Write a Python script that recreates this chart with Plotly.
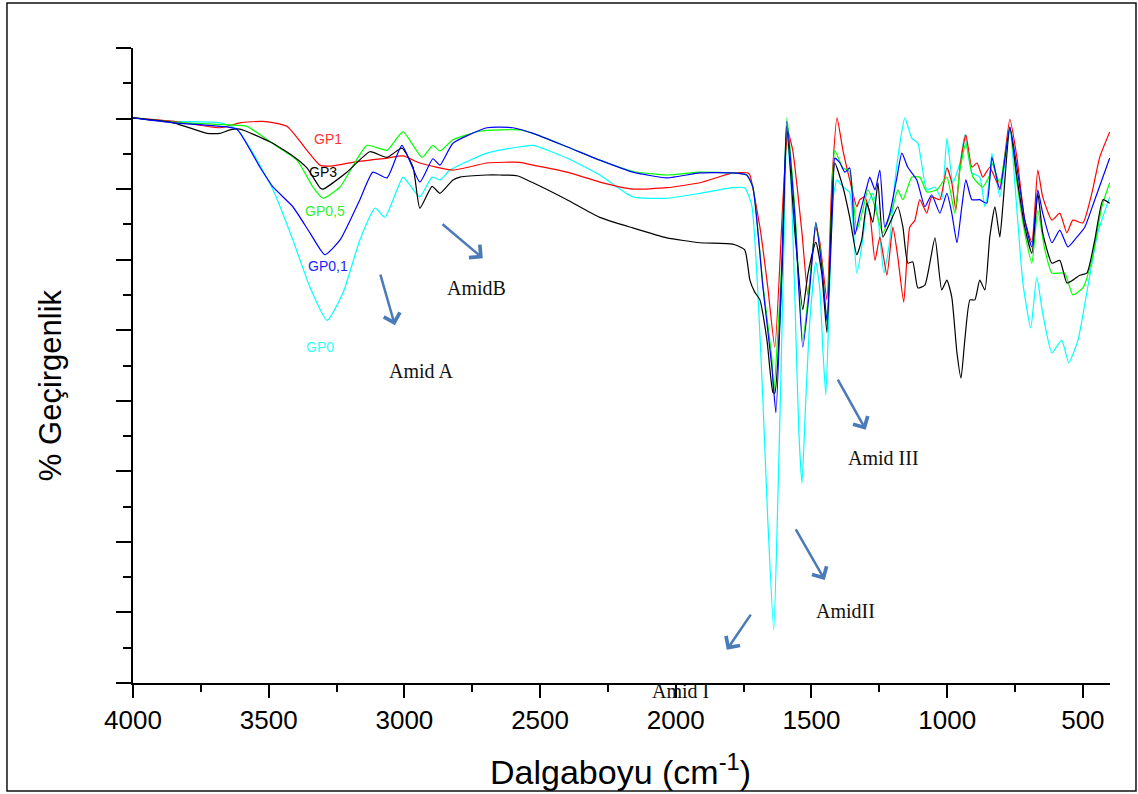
import plotly.graph_objects as go

# ---------------- data ----------------
wn_gp1 = [4000, 3850, 3679, 3606, 3521, 3433, 3359, 3311, 3263, 3190, 3064, 3005, 2943, 2821, 2696,
          2574, 2526, 2401, 2280, 2158, 2033, 1911, 1790, 1735, 1727, 1690, 1661, 1635, 1605, 1587,
          1569, 1535, 1513, 1484, 1469, 1443, 1425, 1406, 1384, 1359, 1333, 1322, 1304, 1285, 1266,
          1248, 1222, 1200, 1182, 1160, 1138, 1119, 1101, 1075, 1057, 1027, 1001, 983, 968, 953, 931,
          909, 890, 869, 843, 832, 806, 769, 743, 714, 688, 666, 648, 614, 585, 559, 537, 500, 467,
          438, 401]
t_gp1 = [80.1, 79.6, 78.7, 79.4, 79.6, 78.9, 75.5, 73.4, 73.3, 73.8, 74.4, 74.7, 73.7, 72.7, 73.7,
         73.8, 73.4, 72.4, 71.0, 70.0, 70.2, 70.9, 72.3, 72.3, 72.0, 64.6, 56.1, 47.6, 68.5, 78.1,
         75.5, 63.8, 55.0, 64.6, 62.4, 54.3, 70.9, 80.1, 75.5, 71.3, 67.5, 68.5, 68.9, 66.6, 59.9,
         63.2, 57.8, 64.6, 60.4, 54.0, 64.6, 65.6, 68.5, 66.6, 68.9, 68.5, 73.0, 70.9, 67.0, 73.1, 77.7,
         73.1, 73.7, 71.7, 73.1, 72.3, 70.2, 79.9, 74.5, 65.6, 62.5, 72.7, 68.9, 65.6, 66.6, 63.8, 65.6,
         65.2, 69.4, 74.5, 78.1]

wn_gp01 = [4000, 3850, 3679, 3617, 3532, 3484, 3411, 3348, 3293, 3237, 3164, 3116, 3064, 3009, 2943,
           2895, 2869, 2821, 2696, 2600, 2526, 2401, 2280, 2158, 2033, 1911, 1790, 1739, 1716, 1679,
           1646, 1631, 1609, 1591, 1561, 1532, 1506, 1484, 1462, 1443, 1421, 1414, 1395, 1377, 1359,
           1340, 1322, 1296, 1285, 1266, 1248, 1230, 1211, 1185, 1167, 1145, 1112, 1082, 1057, 1027,
           1001, 983, 964, 946, 931, 909, 880, 854, 835, 806, 769, 743, 714, 688, 666, 648, 614, 585,
           555, 522, 493, 456, 401]
t_gp01 = [80.1, 79.4, 78.9, 78.5, 73.1, 70.3, 67.5, 63.8, 60.7, 62.8, 68.5, 72.4, 71.6, 76.2, 71.0,
          74.3, 73.4, 76.5, 78.7, 78.7, 77.9, 76.0, 74.1, 72.4, 71.6, 72.3, 72.3, 72.0, 70.3, 56.1,
          44.8, 38.3, 59.0, 79.6, 66.0, 47.6, 56.1, 65.3, 59.0, 51.4, 68.5, 74.4, 73.7, 72.4, 73.0,
          63.5, 66.5, 70.3, 71.7, 69.9, 72.7, 64.6, 66.6, 71.7, 75.1, 73.1, 71.3, 67.5, 69.2, 66.6,
          69.4, 66.6, 62.4, 67.5, 71.3, 68.5, 68.5, 68.0, 74.5, 69.9, 78.8, 73.1, 65.6, 61.8, 69.9,
          66.6, 62.4, 64.2, 61.8, 63.2, 64.6, 68.5, 74.4]

wn_gp05 = [4000, 3850, 3643, 3580, 3495, 3396, 3337, 3300, 3237, 3138, 3064, 3005, 2935, 2895, 2869,
           2821, 2722, 2574, 2526, 2401, 2280, 2158, 2033, 1911, 1790, 1739, 1716, 1679, 1646, 1639,
           1609, 1591, 1561, 1532, 1506, 1484, 1462, 1443, 1425, 1414, 1384, 1359, 1333, 1311, 1292,
           1274, 1237, 1200, 1182, 1163, 1130, 1101, 1075, 1038, 1001, 972, 953, 931, 905, 869, 843,
           835, 806, 769, 743, 714, 688, 666, 640, 614, 567, 537, 500, 467, 430, 401]
t_gp05 = [80.1, 79.5, 79.1, 78.9, 76.7, 74.1, 70.3, 68.7, 70.3, 76.2, 75.5, 78.1, 74.5, 76.2, 75.4,
          77.0, 78.2, 78.4, 77.9, 76.0, 74.1, 72.5, 72.0, 72.4, 72.3, 72.0, 70.3, 56.5, 46.0, 41.1,
          60.0, 80.1, 67.0, 48.6, 57.0, 65.2, 59.5, 51.2, 68.5, 75.5, 73.0, 72.5, 64.2, 67.0, 69.9,
          68.5, 63.8, 67.5, 69.9, 68.5, 71.7, 71.7, 69.6, 69.9, 71.7, 66.6, 72.7, 76.5, 71.7, 70.3, 72.0,
          73.7, 70.9, 78.7, 70.9, 63.8, 59.5, 67.0, 61.4, 58.1, 58.1, 55.0, 56.0, 59.9, 67.5, 70.9]

wn_gp3 = [4000, 3850, 3727, 3679, 3643, 3606, 3495, 3411, 3359, 3311, 3300, 3212, 3127, 3064, 3009,
          2968, 2943, 2898, 2869, 2821, 2795, 2696, 2648, 2585, 2526, 2401, 2280, 2158, 2033, 1911,
          1790, 1746, 1727, 1709, 1690, 1664, 1642, 1635, 1609, 1591, 1561, 1532, 1513, 1484, 1462,
          1443, 1425, 1414, 1384, 1359, 1333, 1315, 1296, 1274, 1255, 1237, 1211, 1182, 1163, 1145,
          1127, 1108, 1082, 1045, 1020, 1001, 983, 964, 949, 935, 916, 898, 880, 861, 843, 824, 806,
          795, 769, 743, 714, 688, 666, 648, 614, 585, 559, 537, 511, 485, 456, 426, 401]
t_gp3 = [80.1, 79.4, 77.9, 77.9, 78.4, 78.5, 76.7, 74.7, 73.0, 70.2, 70.0, 72.4, 75.3, 74.5, 75.8,
         73.1, 67.3, 70.4, 69.4, 71.3, 71.7, 72.0, 72.0, 71.9, 70.9, 68.5, 66.0, 64.5, 63.1, 62.4,
         62.2, 61.4, 57.1, 55.4, 54.3, 48.6, 41.2, 41.1, 58.0, 78.8, 63.8, 52.9, 58.0, 62.5, 58.0,
         49.7, 68.0, 73.7, 70.3, 66.0, 60.7, 62.8, 68.0, 65.3, 70.9, 63.2, 65.2, 67.5, 64.6, 59.5,
         59.7, 56.0, 56.4, 63.1, 55.7, 57.1, 54.7, 46.8, 43.2, 48.6, 54.3, 54.3, 57.1, 55.7, 63.2, 67.5,
         63.2, 67.5, 78.8, 71.7, 64.6, 60.9, 69.4, 63.8, 59.5, 59.9, 56.7, 57.1, 57.8, 58.1, 62.8, 68.5,
         68.0]

wn_gp0 = [4000, 3850, 3679, 3617, 3558, 3484, 3411, 3348, 3285, 3226, 3164, 3108, 3072, 3005, 2980,
          2943, 2898, 2869, 2832, 2696, 2574, 2526, 2401, 2280, 2158, 2033, 1911, 1790, 1746, 1720,
          1698, 1679, 1661, 1639, 1624, 1613, 1602, 1591, 1576, 1561, 1547, 1535, 1521, 1506, 1484,
          1469, 1458, 1447, 1432, 1421, 1406, 1384, 1359, 1333, 1311, 1296, 1274, 1255, 1233, 1211,
          1193, 1174, 1156, 1130, 1108, 1075, 1045, 1020, 1001, 979, 953, 935, 909, 880, 861, 843,
          835, 806, 769, 743, 721, 692, 670, 648, 614, 578, 552, 518, 482, 445, 401]
t_gp0 = [80.1, 79.6, 79.4, 78.5, 75.1, 69.9, 62.8, 56.1, 51.4, 55.3, 62.8, 67.3, 66.0, 71.7, 70.6,
         68.9, 71.7, 71.3, 72.7, 75.1, 76.0, 76.2, 74.4, 72.0, 68.9, 68.7, 69.4, 70.2, 70.2, 67.7,
         55.7, 40.1, 23.1, 7.5, 25.9, 42.9, 61.4, 77.9, 71.3, 54.3, 36.0, 28.3, 40.1, 51.4, 59.7,
         55.7, 47.2, 40.8, 57.1, 68.5, 71.3, 70.3, 69.5, 58.1, 62.8, 67.5, 69.4, 66.0, 58.1, 62.8,
         70.9, 76.5, 80.1, 77.2, 76.5, 69.9, 70.3, 68.5, 77.2, 70.9, 73.7, 77.7, 72.3, 71.7, 67.5, 71.7,
         75.1, 68.9, 78.4, 67.0, 56.7, 50.3, 57.5, 52.4, 46.8, 48.6, 45.4, 48.6, 56.1, 63.8, 68.9]

series = [
    ("GP0", wn_gp0, t_gp0, "#00ffff"),
    ("GP1", wn_gp1, t_gp1, "#ff0000"),
    ("GP0,5", wn_gp05, t_gp05, "#00ff00"),
    ("GP3", wn_gp3, t_gp3, "#000000"),
    ("GP0,1", wn_gp01, t_gp01, "#0000ff"),
]

# curve labels: (text, wavenumber, value, colour)
curve_labels = [
    ("GP1", 3282, 77.1, "#ff3333"),
    ("GP3", 3300, 72.4, "#000000"),
    ("GP0,5", 3293, 66.9, "#33ee33"),
    ("GP0,1", 3282, 59.1, "#2222ff"),
    ("GP0", 3311, 47.6, "#33ffff"),
]

# band annotations: (text, text_wn, text_val, arrow tail wn, tail val, head wn, head val)
bands = [
    ("Amid A", 2939, 44.2, 3090, 58.1, 3035, 50.7),
    ("AmidB", 2733, 56.0, 2865, 65.2, 2711, 60.2),
    ("Amid III", 1233, 31.9, 1406, 43.2, 1300, 35.9),
    ("AmidII", 1373, 10.2, 1561, 22.0, 1451, 14.6),
    ("Amid I", 1981, -1.1, 1720, 9.9, 1812, 4.7),
]

x_ticks = [4000, 3500, 3000, 2500, 2000, 1500, 1000, 500]
X_MIN, X_MAX = 400, 4000
Y_MIN, Y_MAX = 0, 90

# ---------------- figure ----------------
fig = go.Figure()
for name, wn, t, col in series:
    fig.add_trace(go.Scatter(x=wn, y=t, mode="lines", name=name,
                             line=dict(color=col, width=1.2, shape="spline", smoothing=0.5)))

annotations = []
for txt, wn, v, col in curve_labels:
    annotations.append(dict(x=wn, y=v, xref="x", yref="y", text=txt, showarrow=False,
                            font=dict(family="Liberation Sans, Arial", size=14, color=col)))
for txt, tx, ty, ax0, ay0, hx, hy in bands:
    # text placed in paper coordinates so that labels just below the axis still show
    px = (X_MAX - tx) / (X_MAX - X_MIN)
    py = (ty - Y_MIN) / (Y_MAX - Y_MIN)
    annotations.append(dict(x=px, y=py, xref="paper", yref="paper", text=txt, showarrow=False,
                            xanchor="center", yanchor="middle",
                            font=dict(family="Liberation Serif, Times New Roman", size=20,
                                      color="#111111")))
    annotations.append(dict(x=hx, y=hy, ax=ax0, ay=ay0, xref="x", yref="y", axref="x", ayref="y",
                            text="", showarrow=True, arrowhead=4, arrowsize=1.3,
                            arrowwidth=2.5, arrowcolor="#4a7ab8"))

annotations.append(dict(x=0.4985, y=-0.137, xref="paper", yref="paper",
                        xanchor="center", yanchor="middle",
                        text="Dalgaboyu (cm<sup>-1</sup>)", showarrow=False,
                        font=dict(family="Liberation Sans, Arial", size=34, color="#000000")))
annotations.append(dict(x=-0.085, y=0.469, xref="paper", yref="paper", textangle=-90,
                        xanchor="center", yanchor="middle",
                        text="% Geçirgenlik", showarrow=False,
                        font=dict(family="Liberation Sans, Arial", size=31, color="#000000")))

fig.update_layout(
    width=1138, height=794,
    margin=dict(l=133, r=28, t=48, b=111),
    paper_bgcolor="white", plot_bgcolor="white",
    showlegend=False,
    annotations=annotations,
    shapes=[dict(type="rect", xref="paper", yref="paper",
                 x0=-0.129, x1=1.0266, y0=-0.170, y1=1.0709,
                 line=dict(color="#111111", width=1.5))],
)
fig.update_xaxes(range=[X_MAX, X_MIN], tickvals=x_ticks, ticktext=[str(v) for v in x_ticks],
                 ticks="outside", ticklen=13, tickwidth=2, tickcolor="black",
                 showline=True, linecolor="black", linewidth=2, showgrid=False, zeroline=False,
                 tickfont=dict(family="Liberation Sans, Arial", size=26, color="black"),
                 minor=dict(dtick=250, tick0=0, ticks="outside", ticklen=7, tickwidth=2,
                            tickcolor="black", showgrid=False))
fig.update_yaxes(range=[Y_MIN, Y_MAX], dtick=10, tick0=0, showticklabels=False,
                 ticks="outside", ticklen=15, tickwidth=2, tickcolor="black",
                 showline=True, linecolor="black", linewidth=2, showgrid=False, zeroline=False,
                 minor=dict(dtick=5, tick0=0, ticks="outside", ticklen=8, tickwidth=2,
                            tickcolor="black", showgrid=False))

fig.write_html("out.html")
